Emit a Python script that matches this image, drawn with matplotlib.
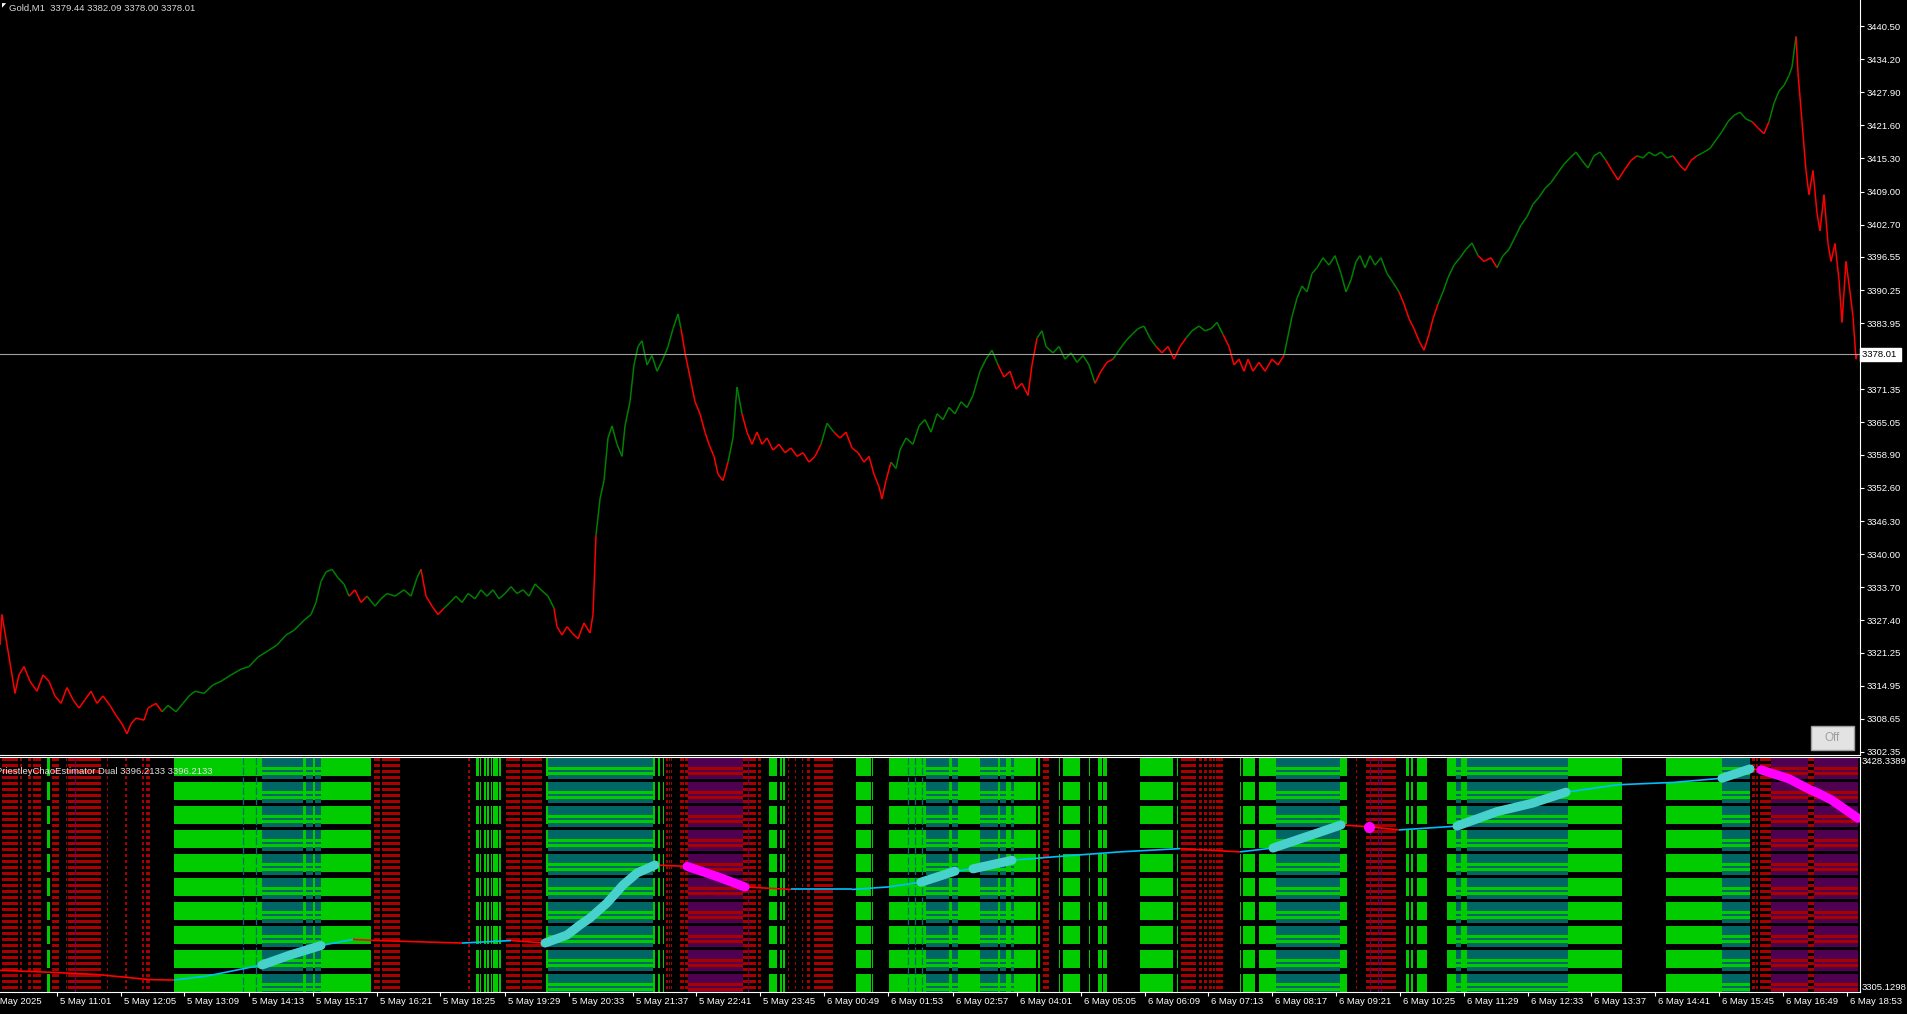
import numpy as np
import matplotlib.pyplot as plt
from matplotlib.collections import LineCollection
from matplotlib.patches import Rectangle

plt.rcParams['font.family'] = ['Liberation Sans', 'DejaVu Sans']

W, H = 1908, 1014
NB = 1860  # M1 bars across the plot area
FS = 6.8

# ---- Gold M1 close (bar index, price) ----
price_bar = [0, 2, 6, 10, 15, 19, 24, 30, 37, 43,
             49, 55, 61, 67, 73, 79, 85, 91, 97, 103,
             110, 116, 122, 127, 131, 136, 144, 148, 156, 162,
             168, 176, 183, 189, 195, 204, 213, 221, 231, 241,
             249, 258, 268, 277, 286, 294, 304, 311, 316, 321,
             326, 332, 338, 344, 349, 355, 361, 367, 375, 381,
             387, 395, 404, 411, 417, 421, 426, 432, 438, 444,
             450, 456, 462, 468, 475, 481, 487, 493, 499, 505,
             511, 517, 523, 529, 535, 541, 548, 554, 557, 562,
             567, 572, 578, 584, 590, 593, 596, 600, 604, 608,
             612, 617, 622, 625, 630, 634, 638, 642, 647, 652,
             657, 663, 668, 673, 678, 681, 685, 690, 695, 700,
             705, 709, 714, 718, 723, 728, 733, 737, 742, 747,
             752, 757, 762, 767, 773, 779, 785, 791, 797, 803,
             809, 815, 821, 827, 834, 840, 846, 852, 858, 864,
             869, 874, 879, 882, 886, 891, 896, 900, 906, 913,
             919, 925, 931, 937, 943, 949, 955, 961, 967, 973,
             980, 986, 992, 998, 1004, 1010, 1016, 1022, 1028, 1032,
             1037, 1042, 1046, 1053, 1059, 1065, 1071, 1077, 1083, 1089,
             1095, 1101, 1107, 1113, 1119, 1126, 1132, 1138, 1144, 1150,
             1156, 1162, 1168, 1174, 1180, 1186, 1192, 1199, 1205, 1211,
             1217, 1223, 1229, 1234, 1239, 1244, 1248, 1253, 1259, 1265,
             1272, 1278, 1284, 1287, 1292, 1297, 1302, 1307, 1312, 1317,
             1323, 1329, 1335, 1341, 1346, 1351, 1356, 1360, 1365, 1370,
             1375, 1381, 1387, 1393, 1399, 1404, 1409, 1414, 1419, 1424,
             1429, 1433, 1438, 1443, 1448, 1454, 1460, 1466, 1472, 1478,
             1484, 1491, 1497, 1503, 1509, 1515, 1521, 1527, 1533, 1539,
             1545, 1551, 1558, 1564, 1570, 1576, 1582, 1588, 1594, 1600,
             1606, 1612, 1618, 1624, 1631, 1637, 1643, 1649, 1655, 1661,
             1667, 1673, 1679, 1685, 1691, 1697, 1704, 1710, 1716, 1722,
             1728, 1734, 1740, 1746, 1752, 1758, 1764, 1769, 1774, 1779,
             1784, 1789, 1792, 1796, 1798, 1802, 1806, 1809, 1813, 1817,
             1820, 1824, 1828, 1831, 1835, 1839, 1842, 1846, 1850, 1853,
             1856, 1857]
price_val = [3322.7, 3328.5, 3323.9, 3319.3, 3313.5, 3317.0, 3318.6, 3315.8, 3313.9, 3317.0,
             3315.8, 3313.0, 3311.6, 3314.6, 3312.3, 3310.7, 3312.3, 3313.9, 3311.6, 3313.0,
             3311.2, 3309.3, 3307.7, 3305.8, 3307.7, 3308.8, 3308.4, 3310.7, 3311.6, 3310.0,
             3311.2, 3310.0, 3311.6, 3313.0, 3313.9, 3313.5, 3315.1, 3315.8, 3317.0, 3318.1,
             3318.6, 3320.4, 3321.6, 3322.7, 3324.6, 3325.5, 3327.4, 3328.5, 3330.8, 3334.8,
             3336.6, 3337.1, 3335.5, 3334.3, 3332.0, 3333.2, 3330.8, 3332.0, 3330.1, 3331.5,
             3332.5, 3332.0, 3333.2, 3332.0, 3335.5, 3337.1, 3332.0, 3330.1, 3328.5, 3329.7,
             3330.8, 3332.0, 3330.8, 3332.5, 3331.5, 3333.2, 3332.0, 3333.2, 3331.5, 3332.5,
             3333.8, 3332.5, 3333.2, 3332.0, 3334.3, 3333.2, 3332.0, 3329.7, 3326.2, 3324.6,
             3326.2, 3325.0, 3323.9, 3326.9, 3325.0, 3328.5, 3343.6, 3350.5, 3354.0, 3362.1,
             3364.4, 3360.9, 3358.6, 3364.4, 3369.0, 3376.0, 3379.5, 3380.6, 3376.0, 3377.8,
             3374.8, 3377.1, 3379.5, 3382.9, 3385.7, 3382.9, 3378.3, 3373.7, 3369.0, 3366.7,
             3363.2, 3360.9, 3358.6, 3355.2, 3354.0, 3357.5, 3362.1, 3371.8, 3366.7, 3363.2,
             3360.9, 3363.2, 3360.9, 3362.1, 3359.8, 3360.9, 3359.3, 3360.2, 3358.6, 3359.3,
             3357.5, 3358.6, 3360.9, 3364.9, 3363.2, 3362.1, 3363.2, 3360.2, 3359.3, 3357.5,
             3358.6, 3355.2, 3352.8, 3350.5, 3354.0, 3357.5, 3356.3, 3359.8, 3362.1, 3360.9,
             3364.4, 3365.6, 3363.2, 3366.7, 3365.6, 3367.9, 3366.7, 3369.0, 3367.9, 3370.2,
             3374.8, 3377.1, 3378.8, 3376.0, 3373.7, 3374.8, 3371.4, 3372.5, 3370.2, 3376.0,
             3381.1, 3382.5, 3379.5, 3378.3, 3379.5, 3377.1, 3378.3, 3376.5, 3377.8, 3376.0,
             3372.5, 3374.8, 3376.5, 3377.1, 3378.8, 3380.6, 3381.8, 3382.9, 3383.4, 3381.1,
             3379.5, 3378.3, 3379.5, 3377.1, 3379.5, 3381.1, 3382.5, 3383.4, 3382.5, 3382.9,
             3384.1, 3381.8, 3379.5, 3376.0, 3377.1, 3374.8, 3377.1, 3374.8, 3376.5, 3374.8,
             3377.1, 3376.0, 3377.8, 3380.6, 3385.2, 3388.7, 3391.0, 3389.9, 3393.4, 3394.5,
             3396.4, 3395.0, 3396.8, 3393.4, 3389.9, 3392.2, 3395.7, 3396.8, 3394.5, 3396.8,
             3395.0, 3396.4, 3393.4, 3391.7, 3389.9, 3387.6, 3384.8, 3382.9, 3380.6, 3378.8,
             3381.8, 3384.8, 3387.6, 3389.9, 3392.6, 3395.0, 3396.4, 3398.0, 3399.2, 3396.8,
             3395.7, 3396.4, 3394.5, 3396.8, 3398.0, 3400.3, 3402.6, 3404.2, 3406.6, 3407.9,
             3409.6, 3410.7, 3412.6, 3414.2, 3415.4, 3416.5, 3414.9, 3413.5, 3415.8, 3416.5,
             3414.9, 3413.0, 3411.2, 3413.0, 3414.9, 3415.8, 3415.4, 3416.5, 3415.8, 3416.5,
             3415.4, 3415.8, 3414.2, 3413.0, 3414.9, 3415.8, 3416.5, 3417.2, 3418.8, 3420.4,
             3422.3, 3423.5, 3424.1, 3422.8, 3422.3, 3421.1, 3420.0, 3422.3, 3425.8, 3428.1,
             3429.2, 3431.1, 3432.7, 3438.5, 3431.6, 3422.3, 3413.0, 3408.4, 3413.0, 3404.9,
             3401.5, 3408.4, 3399.1, 3395.7, 3399.1, 3392.2, 3384.1, 3395.7, 3389.9, 3385.2,
             3377.1, 3378.0]
# bar ranges where the price line is painted red
price_down = [(0, 165), (347, 366), (420, 446), (554, 595), (680, 730), (740, 821),
              (834, 890), (998, 1035), (1095, 1113), (1156, 1186), (1223, 1284),
              (1399, 1436), (1478, 1497), (1606, 1637), (1673, 1697), (1752, 1770),
              (1796, 1860)]

price_ticks = [3440.50, 3434.20, 3427.90, 3421.60, 3415.30, 3409.00, 3402.70, 3396.55,
               3390.25, 3383.95, 3371.35, 3365.05, 3358.90, 3352.60, 3346.30, 3340.00,
               3333.70, 3327.40, 3321.25, 3314.95, 3308.65, 3302.35]
last_price = 3378.01

time_pos = [57, 121, 184, 249, 313, 377, 440, 505, 569, 633, 696, 760, 824, 888,
            953, 1017, 1081, 1145, 1208, 1272, 1336, 1400, 1464, 1528, 1591, 1655,
            1719, 1783, 1847]
time_lbl = ["5 May 11:01", "5 May 12:05", "5 May 13:09", "5 May 14:13", "5 May 15:17",
            "5 May 16:21", "5 May 18:25", "5 May 19:29", "5 May 20:33", "5 May 21:37",
            "5 May 22:41", "5 May 23:45", "6 May 00:49", "6 May 01:53", "6 May 02:57",
            "6 May 04:01", "6 May 05:05", "6 May 06:09", "6 May 07:13", "6 May 08:17",
            "6 May 09:21", "6 May 10:25", "6 May 11:29", "6 May 12:33", "6 May 13:37",
            "6 May 14:41", "6 May 15:45", "6 May 16:49", "6 May 18:53"]

# ---- PriestleyChaoEstimator Dual ----
est_bar = [0, 49, 97, 150, 174, 207, 262, 290, 321, 353,
           377, 462, 511, 545, 567, 580, 590, 607, 623, 637,
           655, 687, 718, 745, 791, 852, 888, 921, 955, 973,
           1012, 1059, 1120, 1180, 1240, 1273, 1341, 1369, 1399, 1457,
           1497, 1533, 1566, 1618, 1673, 1722, 1750, 1761, 1789, 1810,
           1818, 1831, 1858]
est_val = [3316.5, 3315.5, 3314.3, 3311.6, 3311.4, 3313.5, 3319.3, 3324.5, 3329.5, 3332.7,
           3332.1, 3330.8, 3332.1, 3330.8, 3335.0, 3340.3, 3343.9, 3351.8, 3361.2, 3367.5,
           3371.7, 3371.0, 3365.5, 3360.2, 3358.9, 3358.9, 3360.2, 3362.7, 3368.5, 3369.7,
           3374.2, 3376.2, 3378.6, 3380.3, 3378.6, 3380.6, 3392.7, 3391.8, 3390.1, 3392.1,
           3399.7, 3404.2, 3409.9, 3413.8, 3415.0, 3417.2, 3422.1, 3421.6, 3416.9, 3411.2,
           3409.4, 3406.0, 3396.2]
est_up_thick = [(262, 321), (545, 655), (921, 955), (973, 1012), (1273, 1341),
                (1457, 1566), (1722, 1750)]
est_dn_thick = [(687, 745), (1761, 1858)]
est_dot_bar, est_dot_val = 1369, 3391.8
ind_top, ind_bot = 3428.3389, 3305.1298

# histogram blocks behind the estimator (bar ranges)
bg_green = [(47, 50), (174, 371), (476, 479), (480, 481), (484, 486), (487, 489),
            (491, 492), (493, 498), (499, 501), (546, 655), (658, 660), (663, 664),
            (769, 777), (780, 782), (783, 785), (856, 871), (872, 873), (889, 1036),
            (1038, 1040), (1059, 1060), (1063, 1080), (1089, 1090), (1098, 1102),
            (1103, 1107), (1140, 1173), (1177, 1178), (1240, 1241), (1243, 1255),
            (1259, 1347), (1406, 1409), (1411, 1413), (1417, 1427), (1447, 1622),
            (1666, 1750)]
bg_teal = [(262, 303), (306, 313), (315, 321), (548, 653), (926, 949), (952, 958),
           (980, 998), (1000, 1006), (1011, 1014), (1276, 1340), (1456, 1461),
           (1467, 1568), (1722, 1750)]
bg_red = [(2, 18), (20, 22), (28, 31), (33, 41), (52, 59), (66, 67), (68, 101),
          (107, 108), (125, 127), (142, 144), (146, 150), (374, 380), (382, 400),
          (468, 470), (506, 520), (522, 542), (666, 668), (669, 670), (671, 672),
          (680, 684), (685, 688), (743, 756), (758, 761), (788, 789), (795, 796),
          (802, 803), (807, 810), (814, 833), (1043, 1049), (1181, 1196), (1199, 1202),
          (1204, 1207), (1209, 1212), (1213, 1215), (1216, 1223), (1356, 1357),
          (1366, 1396), (1752, 1755), (1756, 1758), (1760, 1771), (1808, 1814)]
bg_purple = [(688, 743), (1771, 1808), (1814, 1858)]
teal_marks = [243, 256, 908, 915, 922]
purple_marks = [75, 748, 1370, 1378, 1381]

fig = plt.figure(figsize=(W / 100, H / 100), dpi=100, facecolor='black')

# ---------------- main price panel ----------------
ax = fig.add_axes([0, 1 - 755 / H, NB / W, 755 / H], facecolor='black')
ax.set_xlim(0, NB)
ax.set_ylim(3301.77, 3445.45)

pts = np.column_stack([price_bar, price_val])
segs = np.stack([pts[:-1], pts[1:]], axis=1)
mid = (pts[:-1, 0] + pts[1:, 0]) / 2
cols = ['#FF0000' if any(a <= m < b for a, b in price_down) else '#008000' for m in mid]
ax.add_collection(LineCollection(segs, colors=cols, linewidths=1.1))
ax.axhline(last_price, color='#a0a0a0', lw=0.8)

for s in ['left', 'top']:
    ax.spines[s].set_visible(False)
for s in ['right', 'bottom']:
    ax.spines[s].set_color('white')
ax.set_xticks([])
ax.yaxis.tick_right()
ax.set_yticks(price_ticks)
ax.set_yticklabels(['%.2f' % v for v in price_ticks])
ax.tick_params(axis='y', colors='white', labelsize=FS, length=3, pad=2)
ax.text(1 + 2 / NB, last_price, '3378.01 ', transform=ax.get_yaxis_transform(),
        ha='left', va='center', color='black', fontsize=FS, clip_on=False,
        bbox=dict(boxstyle='square,pad=0.2', fc='white', ec='white'))

fig.text(2 / W, 1 - 6 / H, '◤', color='white', fontsize=4, va='center', family='DejaVu Sans')
fig.text(9 / W, 1 - 8 / H, 'Gold,M1  3379.44 3382.09 3378.00 3378.01',
         color='#d8d8d8', fontsize=FS, va='center')

fig.add_artist(Rectangle((1811 / W, 1 - 750 / H), 43 / W, 24 / H, transform=fig.transFigure,
                         facecolor='#e3e3e3', edgecolor='#a0a0a0', lw=1))
fig.text(1832.5 / W, 1 - 738 / H, 'Off', color='#a0a0a0', fontsize=8.5,
         ha='center', va='center')

# ---------------- indicator panel ----------------
bg = fig.add_axes([0, 22 / H, NB / W, 235 / H], facecolor='black')
bg.set_xlim(0, NB)
bg.set_ylim(235, 0)
bg.axis('off')

band_tops = [1 + 24 * k for k in range(10)]
green_rows = [(o, 18) for o in band_tops]
inner_rows = ([(o, 9) for o in band_tops] + [(o + 11.7, 2.6) for o in band_tops]
              + [(o + 17.3, 3.4) for o in band_tops])
red_rows = [(1 + 6 * j, 3) for j in range(39)]


def blocks(ranges, rows, color):
    xr = [(a, b - a) for a, b in ranges]
    for y0, h in rows:
        bg.broken_barh(xr, (y0, h), facecolors=color, edgecolor='none')


blocks(bg_red, red_rows, '#AA0000')
blocks(bg_green, green_rows, '#00CC00')
blocks(bg_teal, inner_rows, '#006666')
blocks(bg_purple, [(o, 20.7) for o in band_tops], '#AA0000')
blocks(bg_purple, inner_rows, '#500050')
bg.vlines(teal_marks, 0, 235, colors='#007070', lw=0.9, linestyles=(0, (6, 2)))
bg.vlines(purple_marks, 0, 235, colors='#600060', lw=0.9, linestyles=(0, (6, 2)))

ia = fig.add_axes([0, 22 / H, NB / W, 235 / H], facecolor='none')
ia.set_xlim(0, NB)
ia.set_ylim(ind_bot, ind_top)

ex = np.array(est_bar)
ev = np.array(est_val)
ep = np.column_stack([ex, ev])
esegs = np.stack([ep[:-1], ep[1:]], axis=1)
ecols = ['#00BFFF' if d >= 0 else '#FF0000' for d in np.diff(ev)]
ia.add_collection(LineCollection(esegs, colors=ecols, linewidths=1.2))
for a, b in est_up_thick:
    m = (ex >= a) & (ex <= b)
    ia.plot(ex[m], ev[m], color='#48D1CC', lw=6.5, solid_capstyle='round',
            solid_joinstyle='round')
for a, b in est_dn_thick:
    m = (ex >= a) & (ex <= b)
    ia.plot(ex[m], ev[m], color='#FF00FF', lw=6.5, solid_capstyle='round',
            solid_joinstyle='round')
ia.plot([est_dot_bar], [est_dot_val], 'o', color='#FF00FF', ms=7)

ia.spines['left'].set_visible(False)
for s in ['top', 'right', 'bottom']:
    ia.spines[s].set_color('white')
ia.set_yticks([])
ia.set_xticks(time_pos)
ia.set_xticklabels([])
ia.tick_params(axis='x', colors='white', length=3)

ia.text(1 + 2 / NB, 1, '3428.3389', transform=ia.transAxes, color='white',
        fontsize=FS, ha='left', va='top', clip_on=False)
ia.text(1 + 2 / NB, 0, '3305.1298', transform=ia.transAxes, color='white',
        fontsize=FS, ha='left', va='bottom', clip_on=False)
ia.text(-4, 1 - 14 / 235, 'PriestleyChaoEstimator Dual 3396.2133 3396.2133',
        transform=ia.get_xaxis_transform(), color='#e0e0e0', fontsize=FS,
        ha='left', va='center', clip_on=False)

fig.text(-8 / W, 1 - 1001 / H, '5 May 2025', color='white', fontsize=FS, va='center')
for p, lbl in zip(time_pos, time_lbl):
    fig.text((p + 3) / W, 1 - 1001 / H, lbl, color='white', fontsize=FS, va='center')

fig.savefig('out.png', dpi=100, facecolor='black')
